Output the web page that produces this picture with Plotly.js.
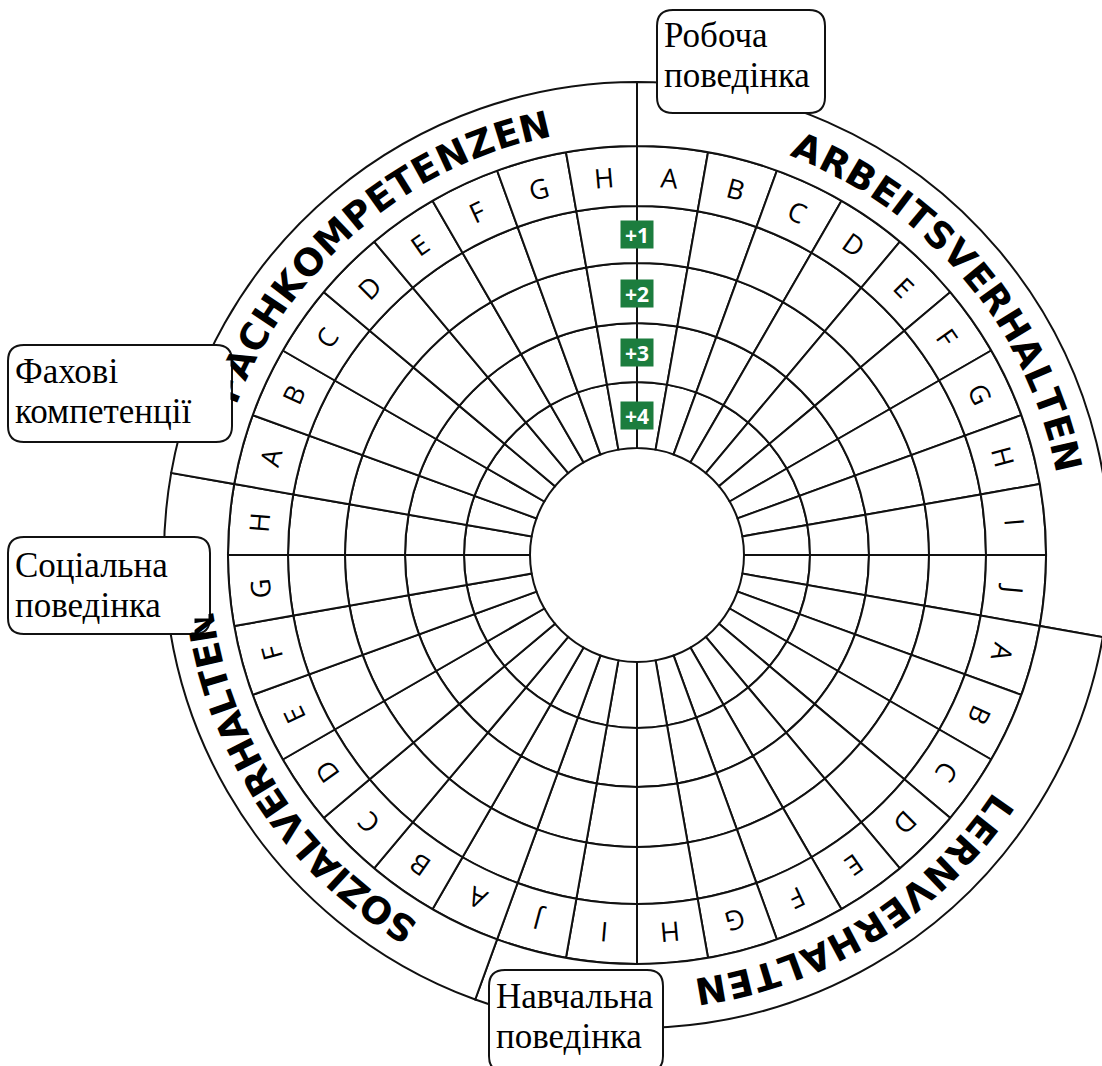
<!DOCTYPE html>
<html>
<head>
<meta charset="utf-8">
<script src="https://cdn.plot.ly/plotly-3.0.1.min.js"></script>
<style>
html,body{margin:0;padding:0;overflow:hidden;background:#fff;width:1102px;height:1066px}
#chart{width:1120px;height:1066px}
</style>
</head>
<body>
<div id="chart"></div>
<script>
// ---------------- data ----------------
const sectionNames = ['ARBEITSVERHALTEN', 'LERNVERHALTEN', 'SOZIALVERHALTEN', 'FACHKOMPETENZEN'];
const arbeitsLetters = ['A','B','C','D','E','F','G','H','I','J'];
const lernLetters    = ['A','B','C','D','E','F','G','H','I','J'];
const sozialLetters  = ['A','B','C','D','E','F','G','H'];
const fachLetters    = ['A','B','C','D','E','F','G','H'];
const levelLabels    = ['+1','+2','+3','+4'];
const calloutLines   = [['Робоча', 'поведінка'], ['Навчальна', 'поведінка'], ['Соціальна', 'поведінка'], ['Фахові', 'компетенції']];

// ---------------- layout / style ----------------
const W = 1120, H = 1066;            // page is wider than viewport; right edge is cut like the reference
const CX = 637, CY = 555;            // wheel centre in pixels
const RMAX = 476;                    // radial range (1 unit = 1 px)
const scoreRings = [107, 173, 232, 292, 349];   // inner circle .. outer score ring
const letterRing = [349, 409];
const nameRing = [409, 473];
const nameCenters = [50, 148, 236.6, 319.5];    // angular centre of each arc title (deg)
const nameSpacing = [1.5, 1.5, 0, 1.5];         // extra letter spacing per arc title (px)
const LINE = '#111';
const GREEN = '#1c7d3e';

const sectionLetters = [arbeitsLetters, lernLetters, sozialLetters, fachLetters];
const nSeg = sectionLetters.reduce((a, s) => a + s.length, 0);
const segDeg = 360 / nSeg;

const segTheta = [], segLabel = [];
const secStart = [], secSpan = [];
let k = 0;
sectionLetters.forEach(list => {
  secStart.push(k * segDeg);
  secSpan.push(list.length * segDeg);
  list.forEach(l => { segTheta.push((k + 0.5) * segDeg); segLabel.push(l); k++; });
});

function ring(r0, r1, thetas, widths) {
  return {
    type: 'barpolar', subplot: 'polar',
    theta: thetas, width: widths,
    base: thetas.map(() => r0), r: thetas.map(() => r1 - r0),
    marker: { color: 'white', line: { color: LINE, width: 2 } },
    hoverinfo: 'skip', showlegend: false
  };
}

const traces = [];
for (let i = 0; i < scoreRings.length - 1; i++) {
  traces.push(ring(scoreRings[i], scoreRings[i + 1], segTheta, segTheta.map(() => segDeg)));
}
traces.push(ring(letterRing[0], letterRing[1], segTheta, segTheta.map(() => segDeg)));
traces.push(ring(nameRing[0], nameRing[1], secStart.map((s, i) => s + secSpan[i] / 2), secSpan));

const px = x => x / W;
const py = y => 1 - y / H;
const norm = a => { a = ((a % 360) + 360) % 360; return a > 180 ? a - 360 : a; };
const rad = d => d * Math.PI / 180;
const polarPt = (r, deg) => [CX + r * Math.sin(rad(deg)), CY - r * Math.cos(rad(deg))];

const annotations = [];

// segment letters
const rL = (letterRing[0] + letterRing[1]) / 2;
segTheta.forEach((t, i) => {
  const [x, y] = polarPt(rL, t);
  annotations.push({
    xref: 'paper', yref: 'paper', x: px(x), y: py(y), xanchor: 'center', yanchor: 'middle',
    text: segLabel[i], showarrow: false, textangle: norm(t),
    font: { family: 'Open Sans', size: 27, color: '#000' }
  });
});

// level badges
levelLabels.forEach((lab, i) => {
  const ri = scoreRings.length - 2 - i;
  const rc = (scoreRings[ri] + scoreRings[ri + 1]) / 2;
  const [x, y] = polarPt(rc, 0);
  annotations.push({
    xref: 'paper', yref: 'paper', x: px(x), y: py(y), xanchor: 'center', yanchor: 'middle',
    text: '<b>' + lab + '</b>', showarrow: false, bgcolor: GREEN, width: 30, height: 25, borderpad: 1,
    font: { family: 'Open Sans', size: 21, color: 'white' }
  });
});

// section names along the arc
const ctx = document.createElement('canvas').getContext('2d');
const NAME_FONT = 37, NAME_FAMILY = 'DejaVu Sans';
ctx.font = "bold " + NAME_FONT + "px '" + NAME_FAMILY + "'";
const rN = 440;
sectionNames.forEach((name, s) => {
  const sp = nameSpacing[s];
  const chars = name.split('');
  const widths = chars.map(c => ctx.measureText(c).width);
  const total = widths.reduce((a, b) => a + b, 0) + sp * (chars.length - 1);
  const center = nameCenters[s];
  let cum = 0;
  chars.forEach((c, j) => {
    const mid = cum + widths[j] / 2;
    const ang = center + (mid - total / 2) / rN * 180 / Math.PI;
    cum += widths[j] + sp;
    const [x, y] = polarPt(rN, ang);
    annotations.push({
      xref: 'paper', yref: 'paper', x: px(x), y: py(y), xanchor: 'center', yanchor: 'middle',
      text: '<b>' + c + '</b>', showarrow: false, textangle: norm(ang),
      font: { family: NAME_FAMILY, size: NAME_FONT, color: '#000' }
    });
  });
});

// callout boxes [left, top, right, bottom] and text baselines
const boxes = [
  { b: [657, 10, 825, 113], base: [47, 87] },
  { b: [489, 970, 663, 1072], base: [1008, 1048] },
  { b: [8, 537, 210, 634], base: [577, 617] },
  { b: [8, 345, 232, 442], base: [383, 423] }
];
const CR = 16;
const shapes = [];
boxes.forEach((bx) => {
  const [l, t, r, b] = bx.b;
  const P = (x, y) => px(x) + ',' + py(y);
  const path = 'M' + P(l + CR, t) + ' L' + P(r - CR, t) + ' Q' + P(r, t) + ' ' + P(r, t + CR) +
    ' L' + P(r, b - CR) + ' Q' + P(r, b) + ' ' + P(r - CR, b) +
    ' L' + P(l + CR, b) + ' Q' + P(l, b) + ' ' + P(l, b - CR) +
    ' L' + P(l, t + CR) + ' Q' + P(l, t) + ' ' + P(l + CR, t) + ' Z';
  shapes.push({ type: 'path', xref: 'paper', yref: 'paper', path: path, layer: 'above',
    fillcolor: 'white', line: { color: LINE, width: 2 } });
  // white covers so the box hides the arc lettering beneath it
  const covers = [[l + CR, t + 2.5, r - CR, b - 2.5], [l + 2.5, t + CR, r - 2.5, b - CR]];
  covers.forEach(c => {
    annotations.push({
      xref: 'paper', yref: 'paper', x: px((c[0] + c[2]) / 2), y: py((c[1] + c[3]) / 2),
      xanchor: 'center', yanchor: 'middle', text: '\u00a0', showarrow: false,
      width: c[2] - c[0], height: c[3] - c[1], borderpad: 0, bgcolor: 'white',
      font: { size: 4, color: 'white' }
    });
  });
});
const BOX_FONT = 35;
boxes.forEach((bx, i) => {
  calloutLines[i].forEach((line, j) => {
    annotations.push({
      xref: 'paper', yref: 'paper', x: px(bx.b[0] + 5), y: py(bx.base[j] - 0.34 * BOX_FONT),
      xanchor: 'left', yanchor: 'middle', align: 'left', text: line, showarrow: false,
      font: { family: 'Liberation Serif', size: BOX_FONT, color: '#000' }
    });
  });
});

const layout = {
  width: W, height: H,
  margin: { l: 0, r: 0, t: 0, b: 0, pad: 0 },
  paper_bgcolor: 'white',
  showlegend: false,
  polar: {
    domain: { x: [(CX - RMAX) / W, (CX + RMAX) / W], y: [(H - CY - RMAX) / H, (H - CY + RMAX) / H] },
    bgcolor: 'white',
    radialaxis: { range: [0, RMAX], visible: false },
    angularaxis: { direction: 'clockwise', rotation: 90, visible: false, showgrid: false, showline: false, ticks: '' }
  },
  annotations: annotations,
  shapes: shapes
};

Plotly.newPlot('chart', traces, layout, { staticPlot: true, displayModeBar: false });
</script>
</body>
</html>
